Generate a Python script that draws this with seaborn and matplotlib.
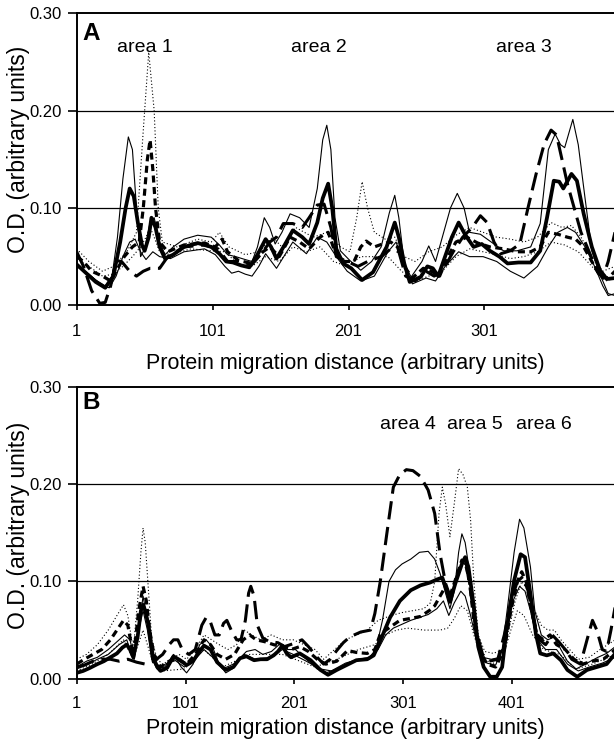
import matplotlib
matplotlib.use("Agg")
import matplotlib.pyplot as plt
import seaborn as sns
import pandas as pd

# ---------------- data: panel A (x = migration distance, y = O.D.) ----------------
a_mean1 = [(1,0.042),(8,0.033),(15,0.024),(22,0.018),(28,0.03),(33,0.065),(37,0.1),(40,0.12),(43,0.112),
           (46,0.085),(49,0.062),(51,0.056),(54,0.07),(56,0.09),(59,0.08),(62,0.06),(66,0.048),(72,0.052),
           (80,0.06),(90,0.064),(100,0.06),(106,0.053),(111,0.045),(116,0.044),(122,0.041),(128,0.039),
           (134,0.052),(140,0.068),(144,0.06),(148,0.048),(154,0.062),(160,0.077),(167,0.07),(172,0.063),
           (178,0.085),(182,0.11),(186,0.125),(189,0.1),(192,0.058),(197,0.043),(203,0.038),(211,0.026),
           (219,0.034),(229,0.06),(235,0.085),(238,0.07),(242,0.043),(246,0.024),(254,0.029),(259,0.04),
           (263,0.038),(267,0.03),(272,0.05),(277,0.07),(282,0.085),(287,0.072),(293,0.06),(299,0.063),
           (305,0.056),(312,0.05),(318,0.043),(326,0.044),(335,0.044),(342,0.056),(347,0.09),(352,0.128),
           (356,0.127),(359,0.12),(365,0.135),(369,0.128),(374,0.094),(380,0.06),(386,0.036),(391,0.027),
           (397,0.028)]
a_upper1 = [(1,0.04),(8,0.034),(15,0.026),(22,0.02),(27,0.03),(31,0.07),(35,0.13),(39,0.173),(42,0.16),
            (45,0.1),(48,0.05),(51,0.058),(55,0.085),(58,0.09),(62,0.065),(66,0.052),(72,0.06),(80,0.068),
            (90,0.072),(100,0.07),(106,0.062),(112,0.052),(118,0.05),(125,0.047),(130,0.045),(134,0.06),
            (139,0.09),(143,0.08),(147,0.063),(152,0.075),(158,0.094),(165,0.09),(172,0.08),(178,0.12),
            (182,0.17),(185,0.185),(188,0.16),(191,0.09),(195,0.056),(202,0.046),(210,0.036),(218,0.045),
            (225,0.06),(231,0.095),(235,0.113),(238,0.09),(242,0.043),(247,0.029),(255,0.045),(260,0.061),
            (265,0.045),(270,0.07),(276,0.1),(281,0.115),(286,0.1),(290,0.075),(298,0.073),(308,0.063),
            (315,0.056),(325,0.056),(335,0.06),(342,0.084),(348,0.16),(353,0.176),(357,0.165),(360,0.162),
            (366,0.191),(370,0.165),(375,0.11),(380,0.056),(385,0.035),(392,0.012),(397,0.01)]
a_lower1 = [(1,0.04),(10,0.032),(20,0.02),(25,0.018),(30,0.03),(35,0.05),(40,0.065),(44,0.068),(48,0.055),
            (52,0.047),(57,0.055),(62,0.05),(70,0.048),(80,0.055),(95,0.058),(103,0.052),(110,0.04),
            (115,0.033),(120,0.035),(125,0.032),(130,0.03),(135,0.04),(140,0.053),(148,0.038),(160,0.065),
            (170,0.053),(178,0.07),(185,0.065),(192,0.05),(200,0.035),(210,0.025),(220,0.03),(230,0.055),
            (236,0.065),(242,0.04),(248,0.022),(258,0.028),(265,0.025),(272,0.04),(282,0.055),(290,0.05),
            (300,0.05),(310,0.045),(320,0.035),(330,0.028),(340,0.04),(348,0.06),(355,0.075),(362,0.08),
            (368,0.075),(375,0.06),(382,0.04),(388,0.02),(392,0.01),(397,0.012)]
a_mean2 = [(1,0.05),(6,0.045),(12,0.035),(20,0.03),(26,0.025),(30,0.035),(36,0.05),(42,0.06),(47,0.065),
           (50,0.1),(53,0.15),(55,0.17),(57,0.14),(59,0.1),(62,0.065),(68,0.055),(80,0.062),(95,0.064),
           (103,0.06),(108,0.068),(112,0.055),(120,0.046),(130,0.043),(138,0.055),(143,0.06),(150,0.05),
           (158,0.07),(165,0.065),(172,0.058),(180,0.07),(186,0.075),(191,0.055),(198,0.045),(205,0.045),
           (210,0.06),(214,0.066),(220,0.06),(226,0.063),(232,0.065),(237,0.06),(242,0.04),(248,0.028),
           (256,0.038),(262,0.035),(268,0.03),(274,0.05),(280,0.065),(288,0.07),(296,0.064),(305,0.06),
           (315,0.058),(325,0.055),(335,0.055),(342,0.06),(348,0.075),(355,0.073),(362,0.07),(368,0.068),
           (374,0.06),(380,0.045),(386,0.03),(392,0.028),(397,0.035)]
a_upper2 = [(1,0.058),(10,0.045),(20,0.035),(28,0.04),(38,0.055),(45,0.075),(50,0.18),(54,0.26),(58,0.2),
            (61,0.1),(64,0.065),(75,0.06),(90,0.068),(100,0.065),(106,0.075),(113,0.06),(125,0.052),
            (135,0.055),(145,0.07),(152,0.06),(162,0.08),(175,0.07),(185,0.075),(195,0.06),(202,0.055),
            (207,0.09),(211,0.127),(215,0.1),(220,0.075),(228,0.068),(235,0.07),(242,0.05),(250,0.045),
            (260,0.055),(270,0.06),(280,0.072),(290,0.08),(300,0.075),(310,0.07),(320,0.068),(330,0.065),
            (340,0.07),(350,0.085),(358,0.08),(365,0.082),(372,0.07),(380,0.05),(388,0.035),(397,0.04)]
a_lower2 = [(1,0.048),(10,0.04),(20,0.03),(28,0.032),(35,0.04),(42,0.05),(48,0.06),(52,0.07),(55,0.08),
            (58,0.07),(62,0.055),(70,0.052),(85,0.058),(100,0.056),(110,0.055),(120,0.042),(130,0.04),
            (140,0.05),(150,0.045),(160,0.06),(170,0.055),(180,0.06),(190,0.045),(200,0.04),(210,0.05),
            (220,0.05),(230,0.05),(240,0.035),(250,0.025),(260,0.03),(270,0.035),(280,0.05),(290,0.058),
            (300,0.055),(310,0.052),(320,0.048),(330,0.05),(340,0.055),(350,0.065),(360,0.062),(370,0.055),
            (380,0.04),(390,0.025),(397,0.028)]
a_ref = [(1,0.055),(6,0.04),(12,0.015),(18,0.002),(22,0.003),(26,0.02),(30,0.046),(34,0.045),(40,0.035),
         (45,0.03),(50,0.035),(55,0.038),(62,0.038),(68,0.05),(80,0.06),(95,0.062),(105,0.058),(112,0.045),
         (120,0.045),(130,0.042),(138,0.055),(143,0.065),(148,0.07),(153,0.084),(160,0.084),(167,0.08),
         (172,0.09),(178,0.103),(183,0.104),(188,0.08),(192,0.05),(200,0.045),(208,0.04),(215,0.045),
         (225,0.05),(232,0.058),(238,0.055),(243,0.03),(250,0.025),(258,0.035),(264,0.03),(270,0.035),
         (278,0.055),(285,0.07),(292,0.08),(298,0.092),(303,0.085),(308,0.065),(313,0.053),(320,0.056),
         (327,0.063),(333,0.1),(339,0.135),(345,0.166),(350,0.18),(354,0.175),(358,0.15),(362,0.125),
         (367,0.1),(372,0.075),(378,0.055),(384,0.035),(388,0.028),(392,0.045),(397,0.075)]

# ---------------- data: panel B ----------------
b_mean1 = [(1,0.006),(7,0.008),(13,0.011),(20,0.015),(26,0.018),(32,0.022),(38,0.026),(43,0.032),(47,0.035),
           (50,0.03),(53,0.022),(57,0.043),(60,0.07),(62,0.076),(64,0.07),(67,0.055),(71,0.023),(75,0.012),
           (78,0.008),(84,0.011),(90,0.023),(96,0.019),(102,0.014),(108,0.018),(113,0.027),(118,0.034),
           (124,0.03),(130,0.017),(138,0.009),(145,0.012),(151,0.021),(157,0.023),(164,0.019),(170,0.02),
           (176,0.02),(182,0.024),(186,0.028),(190,0.034),(194,0.026),(198,0.022),(206,0.026),(216,0.019),
           (225,0.009),(232,0.004),(240,0.009),(249,0.014),(258,0.019),(268,0.02),(274,0.024),(280,0.039),
           (289,0.063),(298,0.08),(308,0.091),(317,0.096),(326,0.099),(332,0.102),(337,0.104),(341,0.091),
           (344,0.079),(349,0.098),(355,0.118),(358,0.125),(361,0.115),(366,0.074),(370,0.033),(375,0.012),
           (381,0.002),(387,0.002),(392,0.012),(396,0.05),(403,0.101),(409,0.128),(413,0.125),(418,0.087),
           (423,0.046),(427,0.026),(433,0.024),(439,0.026),(446,0.019),(452,0.009),(461,0.002),(470,0.009),
           (479,0.012),(488,0.015),(496,0.026)]
b_upper1 = [(1,0.012),(10,0.018),(20,0.022),(30,0.03),(40,0.04),(45,0.045),(50,0.04),(54,0.02),(58,0.05),
            (62,0.085),(66,0.06),(70,0.02),(75,0.01),(82,0.012),(90,0.025),(97,0.012),(102,0.006),(108,0.015),
            (114,0.035),(120,0.04),(126,0.032),(132,0.015),(138,0.006),(144,0.01),(150,0.02),(157,0.028),
            (165,0.03),(172,0.025),(180,0.028),(188,0.036),(195,0.03),(202,0.03),(212,0.02),(222,0.01),
            (230,0.006),(240,0.01),(250,0.016),(260,0.02),(270,0.022),(276,0.03),(282,0.06),(288,0.1),
            (294,0.112),(300,0.118),(308,0.123),(316,0.13),(324,0.131),(330,0.123),(335,0.108),(340,0.088),
            (344,0.072),(348,0.09),(352,0.13),(355,0.149),(358,0.14),(362,0.11),(366,0.06),(372,0.025),
            (378,0.016),(386,0.014),(392,0.03),(397,0.074),(403,0.13),(408,0.164),(412,0.155),(418,0.115),
            (422,0.07),(428,0.045),(434,0.04),(440,0.043),(446,0.03),(452,0.018),(460,0.01),(470,0.016),
            (480,0.022),(488,0.026),(496,0.033)]
b_lower1 = [(1,0.01),(10,0.014),(20,0.02),(30,0.025),(40,0.035),(47,0.04),(53,0.02),(58,0.05),(62,0.07),
            (66,0.05),(70,0.02),(78,0.012),(90,0.02),(100,0.012),(110,0.02),(118,0.03),(126,0.022),(135,0.01),
            (145,0.015),(155,0.025),(165,0.02),(180,0.022),(190,0.03),(200,0.025),(212,0.018),(225,0.01),
            (235,0.008),(248,0.016),(260,0.02),(270,0.02),(278,0.03),(285,0.045),(292,0.052),(300,0.056),
            (308,0.06),(316,0.063),(324,0.066),(332,0.072),(338,0.08),(343,0.065),(348,0.078),(354,0.09),
            (358,0.085),(363,0.065),(368,0.04),(374,0.022),(382,0.02),(390,0.022),(396,0.045),(402,0.08),
            (408,0.095),(413,0.09),(418,0.07),(424,0.04),(432,0.03),(442,0.03),(452,0.015),(462,0.008),
            (472,0.012),(484,0.016),(496,0.022)]
b_mean2 = [(1,0.015),(8,0.02),(16,0.025),(24,0.03),(32,0.04),(38,0.05),(44,0.06),(48,0.055),(52,0.03),
           (55,0.04),(58,0.07),(62,0.095),(65,0.08),(68,0.05),(72,0.025),(78,0.012),(86,0.018),(94,0.02),
           (102,0.015),(110,0.025),(118,0.04),(124,0.035),(130,0.025),(138,0.02),(146,0.025),(154,0.04),
           (160,0.045),(166,0.04),(174,0.038),(182,0.035),(190,0.033),(198,0.03),(206,0.033),(214,0.028),
           (222,0.02),(230,0.015),(240,0.018),(250,0.029),(258,0.027),(268,0.026),(275,0.03),(280,0.046),
           (289,0.053),(298,0.06),(308,0.062),(317,0.064),(325,0.07),(330,0.075),(336,0.087),(340,0.095),
           (344,0.085),(350,0.105),(355,0.122),(358,0.12),(362,0.1),(366,0.06),(371,0.03),(378,0.015),
           (386,0.012),(394,0.03),(400,0.07),(406,0.1),(410,0.11),(414,0.1),(419,0.07),(424,0.045),
           (430,0.04),(436,0.045),(442,0.035),(450,0.03),(458,0.02),(466,0.015),(475,0.018),(485,0.02),
           (496,0.03)]
b_upper2 = [(1,0.02),(10,0.025),(20,0.035),(30,0.05),(38,0.065),(44,0.076),(48,0.065),(53,0.03),(57,0.08),
            (60,0.13),(62,0.155),(64,0.14),(67,0.09),(70,0.04),(75,0.02),(80,0.015),(88,0.02),(95,0.025),
            (102,0.02),(110,0.03),(118,0.045),(125,0.04),(132,0.035),(140,0.03),(148,0.035),(155,0.05),
            (162,0.045),(170,0.04),(180,0.045),(190,0.04),(200,0.04),(210,0.035),(220,0.03),(228,0.02),
            (238,0.03),(248,0.04),(258,0.045),(268,0.05),(278,0.06),(290,0.065),(300,0.068),(310,0.07),
            (320,0.072),(326,0.078),(330,0.1),(334,0.17),(337,0.197),(340,0.18),(344,0.146),(348,0.18),
            (352,0.216),(356,0.21),(360,0.197),(363,0.163),(366,0.1),(370,0.045),(376,0.028),(384,0.026),
            (392,0.03),(398,0.05),(404,0.08),(410,0.1),(416,0.09),(422,0.07),(428,0.055),(434,0.05),
            (440,0.05),(446,0.04),(454,0.03),(462,0.02),(472,0.022),(482,0.03),(496,0.04)]
b_lower2 = [(1,0.008),(15,0.015),(30,0.025),(44,0.04),(53,0.02),(62,0.05),(70,0.02),(80,0.008),(100,0.01),
            (118,0.03),(135,0.012),(160,0.025),(190,0.025),(220,0.012),(240,0.02),(260,0.03),(275,0.035),
            (285,0.045),(295,0.05),(305,0.052),(320,0.05),(335,0.05),(342,0.052),(348,0.062),(354,0.075),
            (360,0.07),(366,0.045),(372,0.025),(382,0.015),(392,0.02),(400,0.05),(406,0.07),(412,0.065),
            (420,0.045),(430,0.03),(445,0.025),(460,0.01),(475,0.015),(496,0.025)]
b_ref = [(1,0.012),(8,0.014),(16,0.018),(24,0.02),(32,0.02),(40,0.018),(48,0.02),(56,0.017),(64,0.015),
         (72,0.018),(80,0.025),(86,0.035),(90,0.04),(94,0.04),(98,0.03),(104,0.025),(110,0.03),(116,0.055),
         (120,0.063),(124,0.058),(128,0.045),(132,0.045),(136,0.057),(139,0.06),(143,0.05),(148,0.04),
         (152,0.04),(156,0.06),(159,0.088),(161,0.095),(164,0.085),(167,0.055),(172,0.042),(178,0.038),
         (186,0.037),(192,0.033),(200,0.036),(208,0.04),(214,0.033),(222,0.022),(228,0.015),(234,0.02),
         (240,0.029),(246,0.037),(252,0.043),(262,0.048),(271,0.05),(275,0.067),(280,0.1),(286,0.149),
         (292,0.197),(298,0.21),(304,0.215),(310,0.214),(317,0.208),(324,0.194),(330,0.17),(335,0.128),
         (340,0.098),(344,0.085),(349,0.1),(355,0.12),(359,0.118),(363,0.09),(368,0.05),(374,0.025),
         (380,0.018),(388,0.02),(394,0.045),(400,0.08),(406,0.1),(411,0.105),(416,0.09),(421,0.06),
         (426,0.04),(432,0.035),(438,0.045),(444,0.038),(450,0.03),(456,0.02),(464,0.015),(470,0.04),
         (475,0.06),(479,0.05),(484,0.03),(488,0.028),(492,0.05),(496,0.075)]

y_ticks = [0.00, 0.10, 0.20, 0.30]
y_tick_labels = ["0.00", "0.10", "0.20", "0.30"]
a_x_ticks = [1, 101, 201, 301]
b_x_ticks = [1, 101, 201, 301, 401]
a_areas = [("area 1", 51), ("area 2", 179), ("area 3", 330)]
b_areas = [("area 4", 305), ("area 5", 367), ("area 6", 430)]
x_label = "Protein migration distance (arbitrary units)"
y_label = "O.D. (arbitrary units)"

# ---------------- styles ----------------
styles = {
    "upper1": dict(lw=0.8, ls="-"),
    "lower1": dict(lw=0.8, ls="-"),
    "upper2": dict(lw=0.8, ls=(0, (1, 2))),
    "lower2": dict(lw=0.8, ls=(0, (1, 2))),
    "mean2": dict(lw=2.3, ls=(0, (2.2, 1.4))),
    "ref": dict(lw=2.2, ls=(0, (6, 2.5))),
    "mean1": dict(lw=2.7, ls="-"),
}

def to_frame(series):
    rows = []
    for name, pts in series.items():
        for x, y in pts:
            rows.append({"series": name, "x": x, "y": y})
    return pd.DataFrame(rows)

df_a = to_frame({"upper1": a_upper1, "lower1": a_lower1, "upper2": a_upper2, "lower2": a_lower2,
                 "mean2": a_mean2, "ref": a_ref, "mean1": a_mean1})
df_b = to_frame({"upper1": b_upper1, "lower1": b_lower1, "upper2": b_upper2, "lower2": b_lower2,
                 "mean2": b_mean2, "ref": b_ref, "mean1": b_mean1})

sns.set_style("white")
plt.rcParams["font.family"] = ["Liberation Sans", "DejaVu Sans"]
plt.rcParams["text.color"] = "black"
plt.rcParams["axes.labelcolor"] = "black"

fig = plt.figure(figsize=(6.14, 7.45), dpi=100)
ax_a = fig.add_axes([0.1249, 0.5902, 0.8760, 0.3919])
ax_b = fig.add_axes([0.1249, 0.0890, 0.8760, 0.3915])

def draw(ax, df, xmax, xticks, letter, letter_y, areas, area_y, xpad, xlabelpad, ylab_y):
    for name, st in styles.items():
        sub = df[df["series"] == name]
        sns.lineplot(data=sub, x="x", y="y", ax=ax, color="black", linewidth=st["lw"],
                     linestyle=st["ls"], sort=False, estimator=None, legend=False, zorder=3)
    ax.set_xlim(1, xmax)
    ax.set_ylim(0, 0.30)
    ax.set_yticks(y_ticks)
    ax.set_yticklabels(y_tick_labels)
    ax.set_xticks(xticks)
    ax.set_xticklabels([str(t) for t in xticks])
    for yv in (0.10, 0.20):
        ax.axhline(yv, color="black", lw=0.9, zorder=2)
    for side in ("left", "bottom", "top"):
        ax.spines[side].set_visible(True)
        ax.spines[side].set_color("black")
        ax.spines[side].set_linewidth(1.4)
    ax.spines["right"].set_visible(False)
    ax.tick_params(axis="y", direction="out", length=6.5, width=1.2, labelsize=12, pad=4,
                   left=True, colors="black")
    ax.tick_params(axis="x", direction="out", length=3.6, width=1.2, labelsize=12, pad=xpad,
                   bottom=True, colors="black")
    ax.set_xlabel(x_label, fontsize=15.5, labelpad=xlabelpad, color="black")
    ax.set_ylabel(y_label, fontsize=16.5, color="black")
    ax.yaxis.set_label_coords(-0.086, ylab_y)
    ax.text(0.01, letter_y, letter, transform=ax.transAxes, fontsize=17.5, fontweight="bold",
            va="top", ha="left", color="black")
    for lab, xv in areas:
        ax.text(xv, area_y, lab, fontsize=14, ha="center", va="center", color="black")

draw(ax_a, df_a, 396.7, a_x_ticks, "A", 0.97, a_areas, 0.265, 10, 10, 0.535)
draw(ax_b, df_b, 495.3, b_x_ticks, "B", 0.985, b_areas, 0.261, 9, 5, 0.527)

fig.savefig("out.png", dpi=100)
